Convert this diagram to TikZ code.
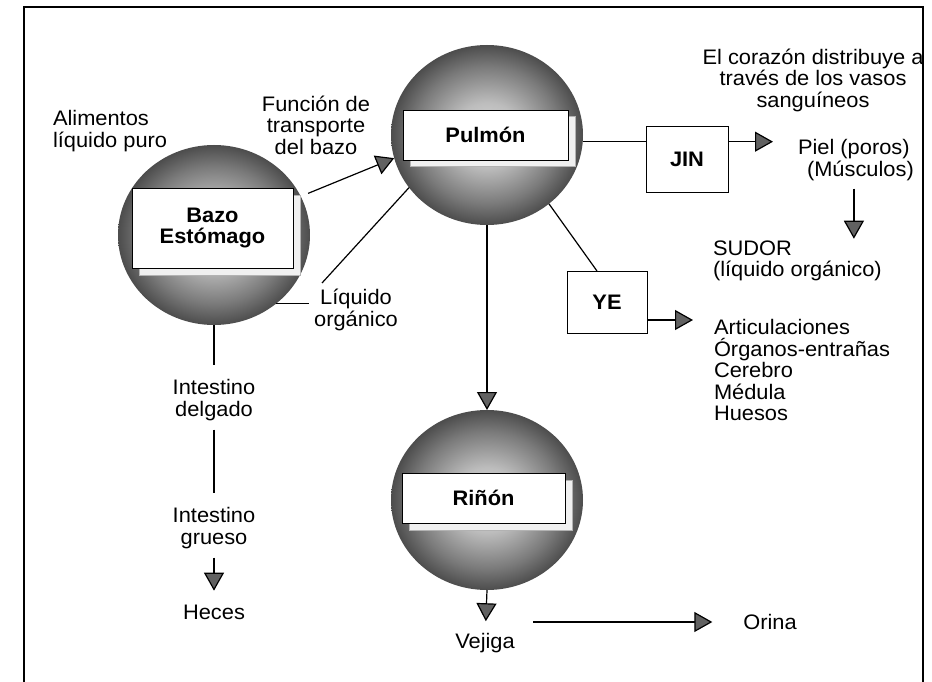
\documentclass[tikz,border=0pt]{standalone}
\usepackage{fontspec}
\setmainfont{Liberation Sans}[FakeStretch=1.04]
\usetikzlibrary{arrows.meta,shapes.geometric}
\pgfdeclareradialshading{sphere}{\pgfpoint{0bp}{0bp}}{color(0bp)=(black!14); color(9bp)=(black!26); color(19bp)=(black!52); color(25bp)=(black!70); color(50bp)=(black!70)}
\newcommand{\fs}{\fontsize{21pt}{21.5pt}\selectfont}
\begin{document}
\begin{tikzpicture}[x=1pt,y=-1pt,
  lbl/.style={font=\fs, align=center, inner sep=0pt, outer sep=0pt},
  lbll/.style={font=\fs, align=left, inner sep=0pt, outer sep=0pt, anchor=west},
  sph/.style={ellipse, shading=sphere, minimum width=192pt, minimum height=180pt, inner sep=0pt, outer sep=0pt},
  bx/.style={draw, fill=white, line width=0.8pt, font=\fs\bfseries, align=center, inner sep=0pt, outer sep=0pt},
  shd/.style={draw=gray!60, fill=gray!12, line width=0.6pt, inner sep=0pt, outer sep=0pt},
  con/.style={line width=1.2pt},
  arr/.style={con, -{Triangle[length=18pt,width=20pt,fill=black!62]}},
]
\useasboundingbox (0,0) rectangle (932,682);
\draw[line width=2pt] (24,682) -- (24,7) -- (923,7) -- (923,682);

% spheres
\node[sph] (bazS) at (214,235) {};
\node[sph] (pulS) at (487,135) {};
\node[sph] (rinS) at (487,500) {};

% boxes with shadows
\node[shd, minimum width=161pt, minimum height=80pt] (bazSh) at (219.5,235) {};
\node[bx, minimum width=161pt, minimum height=80pt] (baz) at (212.5,228) {Bazo\\Estómago};
\node[shd, minimum width=165pt, minimum height=50pt] (pulSh) at (492.5,141) {};
\node[bx, minimum width=165pt, minimum height=50pt] (pul) at (485.5,135) {Pulmón};
\node[shd, minimum width=163pt, minimum height=50pt] (rinSh) at (490.5,505) {};
\node[bx, minimum width=163pt, minimum height=50pt] (rin) at (483.5,498) {Riñón};
\node[bx, minimum width=82pt, minimum height=66pt] (jin) at (687,159) {JIN};
\node[bx, minimum width=80pt, minimum height=62pt] (ye) at (607,302) {YE};

% labels
\node[lbll] (ali) at (53,131) {Alimentos\\líquido puro};
\node[lbl] (fun) at (316,125) {Función de\\transporte\\del bazo};
\node[lbl] (liq) at (356,310) {Líquido\\orgánico};
\node[lbl] (cor) at (813,80) {El corazón distribuye a\\través de los vasos\\sanguíneos};
\node[lbll] (piel) at (798,160) {Piel (poros)\\\hspace*{9pt}(Músculos)};
\node[lbll] (sud) at (713,261) {SUDOR\\(líquido orgánico)};
\node[lbll] (art) at (714,370) {Articulaciones\\Órganos-entrañas\\Cerebro\\Médula\\Huesos};
\node[lbl] (int1) at (214,400) {Intestino\\delgado};
\node[lbl] (int2) at (214,528) {Intestino\\grueso};
\node[lbl] (hec) at (214,612) {Heces};
\node[lbl] (vej) at (485,643) {Vejiga};
\node[lbl] (ori) at (770,622) {Orina};

% connectors
\draw[arr, shorten <=8pt] (bazS.24) -- (pulS.194);
\coordinate (liqEnd) at (322,283);
\draw[con] (pulS.214) -- (liqEnd);
\draw[con, shorten >=5pt] (bazS.312) -- (bazS.312 -| liq.west);
\draw[con, shorten >=14pt] (bazS.south) -- (int1);
\draw[con, shorten <=9pt, shorten >=14pt] (int1) -- (int2);
\draw[arr, shorten <=9pt, shorten >=14pt] (int2) -- (hec);
\draw[arr] (pulS.south) -- (rinS.north);
\draw[arr, shorten >=12pt] (rinS.south) -- (vej);
\coordinate (o1) at (533,622);
\draw[arr, shorten >=31pt] (o1) -- (ori);
\draw[con] (pulS.356) -- (pulS.356 -| jin.west);
\draw[arr, shorten >=25pt] (pulS.356 -| jin.east) -- (pulS.356 -| piel.west);
\coordinate (pielA) at ([xshift=-2pt]piel.south);
\draw[arr, shorten <=8pt, shorten >=2pt] (pielA) -- (pielA |- sud.north);
\draw[con] (pulS.312) -- ([xshift=-10pt]ye.north);
\coordinate (yeA) at ([yshift=-18pt]ye.east);
\draw[arr, shorten >=21pt] (yeA) -- (yeA -| art.west);
\end{tikzpicture}
\end{document}
